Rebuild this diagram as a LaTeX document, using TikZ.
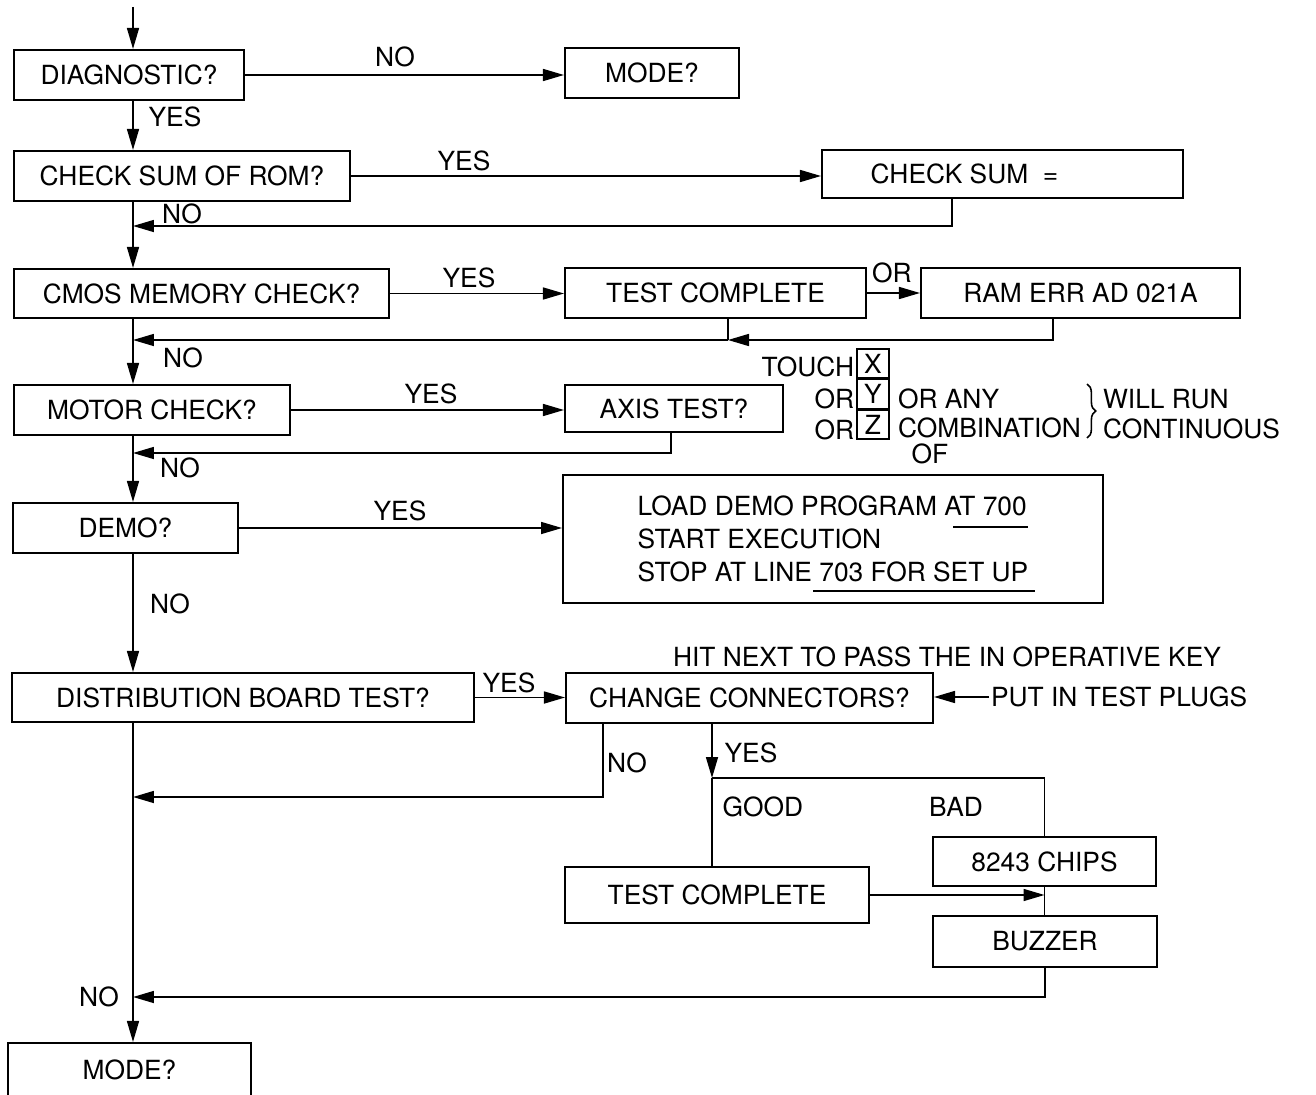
\documentclass[tikz,border=0pt]{standalone}
\usepackage{fontspec}
\setmainfont{TeX Gyre Heros}
\usetikzlibrary{arrows.meta,positioning,decorations.pathreplacing}
\newcommand{\flowfont}{\fontsize{15}{18.9}\selectfont}
\tikzset{
  box/.style={draw, line width=1.2pt, minimum height=1cm, inner sep=2pt, font=\flowfont},
  lbl/.style={font=\flowfont, inner sep=1pt},
  line/.style={line width=0.9pt},
  flow/.style={line, -{Triangle[length=0.42cm, width=0.24cm]}},
  keybox/.style={draw, line width=0.9pt, minimum width=0.64cm, minimum height=0.58cm, inner sep=0pt, font=\flowfont},
}

\begin{document}
\begin{tikzpicture}[x=0.02cm, y=-0.02cm]
  \useasboundingbox (0,0) rectangle (1316,1095);

  % main column
  \coordinate (top) at (133,7);

  % decision boxes on the left
  \node[box, minimum width=4.6cm] (diag) at (129,75) {DIAGNOSTIC?};
  \node[box, minimum width=6.72cm] (rom) at (182,176) {CHECK SUM OF ROM?};
  \node[box, minimum width=7.5cm, minimum height=0.98cm] (cmos) at (201.5,293.5) {CMOS MEMORY CHECK?};
  \node[box, minimum width=5.52cm] (motor) at (152,410) {MOTOR CHECK?};
  \node[box, minimum width=4.5cm] (demo) at (125.5,528) {DEMO?};
  \node[box, minimum width=9.24cm, minimum height=0.98cm] (dist) at (243,697.5) {DISTRIBUTION BOARD TEST?};
  \node[box, minimum width=4.86cm, minimum height=1.08cm] (mode2) at (129.5,1070) {MODE?};

  % boxes on the right
  \node[box, minimum width=3.48cm] (mode1) at (652,73) {MODE?};
  \node[box, minimum width=7.22cm, minimum height=0.96cm] (sum) at (1002.5,174) {CHECK SUM\ \ =\hspace*{1.52cm}};
  \node[box, minimum width=6.02cm] (tc1) at (715.5,293) {TEST COMPLETE};
  \node[box, minimum width=6.38cm] (ram) at (1080.5,293) {RAM ERR AD 021A};
  \node[box, minimum width=4.36cm, minimum height=0.94cm] (axis) at (674,408.5) {AXIS TEST?};
  \node[box, minimum width=10.8cm, minimum height=2.56cm, align=left] (prog) at (833,539)
    {LOAD DEMO PROGRAM AT 700\\START EXECUTION\\STOP AT LINE 703 FOR SET UP};
  \node[box, minimum width=7.34cm] (conn) at (749.5,698) {CHANGE CONNECTORS?};
  \node[box, minimum width=4.46cm, minimum height=0.98cm] (chips) at (1044.5,861.5) {8243 CHIPS};
  \node[box, minimum width=6.08cm, minimum height=1.12cm] (tc2) at (717,895) {TEST COMPLETE};
  \node[box, minimum width=4.48cm, minimum height=1.02cm] (buzz) at (1045,941.5) {BUZZER};

  % axis keys
  \node[keybox] (kx) at (873,363.5) {X};
  \node[keybox, below=0pt of kx] (ky) {Y};
  \node[keybox, below=0pt of ky] (kz) {Z};
  \node[lbl, anchor=east, yshift=-2pt] (touch) at (kx.west) {TOUCH};
  \node[lbl, anchor=east, yshift=-3pt] (ory) at (ky.west) {OR};
  \node[lbl, anchor=east, yshift=-3pt] (orz) at (kz.west) {OR};
  \node[lbl, anchor=west, xshift=3.5pt, yshift=-3pt] (orany) at (ky.east) {OR ANY};
  \node[lbl, anchor=west, xshift=3.5pt, yshift=-2pt] (combo) at (kz.east) {COMBINATION};
  \node[lbl, anchor=north, inner sep=0pt] (of) at (930,443) {OF};
  \draw[line, decorate, decoration={brace, amplitude=5pt}] (1087,384) -- (1087,438);
  \node[lbl, anchor=west] (willrun) at (1101,399) {WILL RUN};
  \node[lbl, anchor=west] (contin) at (1101,429) {CONTINUOUS};

  % notes by the connectors box
  \node[lbl] (hit) at (947,657) {HIT NEXT TO PASS THE IN OPERATIVE KEY};
  \node[lbl, anchor=west] (put) at (989,697) {PUT IN TEST PLUGS};

  % underlines in the demo box
  \draw[line] (953,527) -- (1028,527);
  \draw[line] (813,591) -- (1035,591);

  % labels
  \node[lbl] at (395,57) {NO};
  \node[lbl] at (175,117) {YES};
  \node[lbl] at (464,161) {YES};
  \node[lbl] at (182,214) {NO};
  \node[lbl] at (469,278) {YES};
  \node[lbl] at (892,273) {OR};
  \node[lbl] at (183,358) {NO};
  \node[lbl] at (431,394) {YES};
  \node[lbl] at (180,468) {NO};
  \node[lbl] at (400,511) {YES};
  \node[lbl] at (170,604) {NO};
  \node[lbl] at (509,683) {YES};
  \node[lbl] at (627,763) {NO};
  \node[lbl] at (751,753) {YES};
  \node[lbl] at (763,807) {GOOD};
  \node[lbl] at (956,807) {BAD};
  \node[lbl] at (99,997) {NO};

  % down the main column
  \draw[flow] (top) -- (top |- diag.north);
  \foreach \a/\b in {diag/rom, rom/cmos, cmos/motor, motor/demo, demo/dist, dist/mode2}
    \draw[flow] (top |- \a.south) -- (top |- \b.north);

  % across to the right
  \foreach \a/\b in {diag/mode1, rom/sum, cmos/tc1, tc1/ram, motor/axis, demo/prog, dist/conn}
    \draw[flow] (\a.east) -- (\a.east -| \b.west);
  \draw[flow] (put.west) -- (put.west -| conn.east);

  % back to the main column
  \coordinate (sumret) at (952,226);
  \draw[flow] (sumret |- sum.south) |- (top |- sumret);
  \coordinate (ramret) at (1053,340);
  \coordinate (tcret) at (728,340);
  \draw[flow] (ramret |- ram.south) |- (tcret);
  \draw[line] (tcret |- tc1.south) -- (tcret);
  \draw[flow] (tcret) -- (top |- tcret);
  \coordinate (axisret) at (671,453);
  \draw[flow] (axisret |- axis.south) |- (top |- axisret);
  \coordinate (connno) at (603,797);
  \draw[flow] (connno |- conn.south) |- (top |- connno);

  % connector test branch
  \coordinate (yesjoin) at (712,778);
  \draw[flow] (yesjoin |- conn.south) -- (yesjoin);
  \draw[line] (yesjoin) -| (chips.north);
  \draw[line] (yesjoin) -- (yesjoin |- tc2.north);
  \draw[flow] (tc2.east) -- (tc2.east -| chips.south);
  \draw[line] (chips.south) -- (chips.south |- buzz.north);
  \coordinate (buzzret) at (0,997);
  \draw[flow] (buzz.south) |- (top |- buzzret);
\end{tikzpicture}
\end{document}
